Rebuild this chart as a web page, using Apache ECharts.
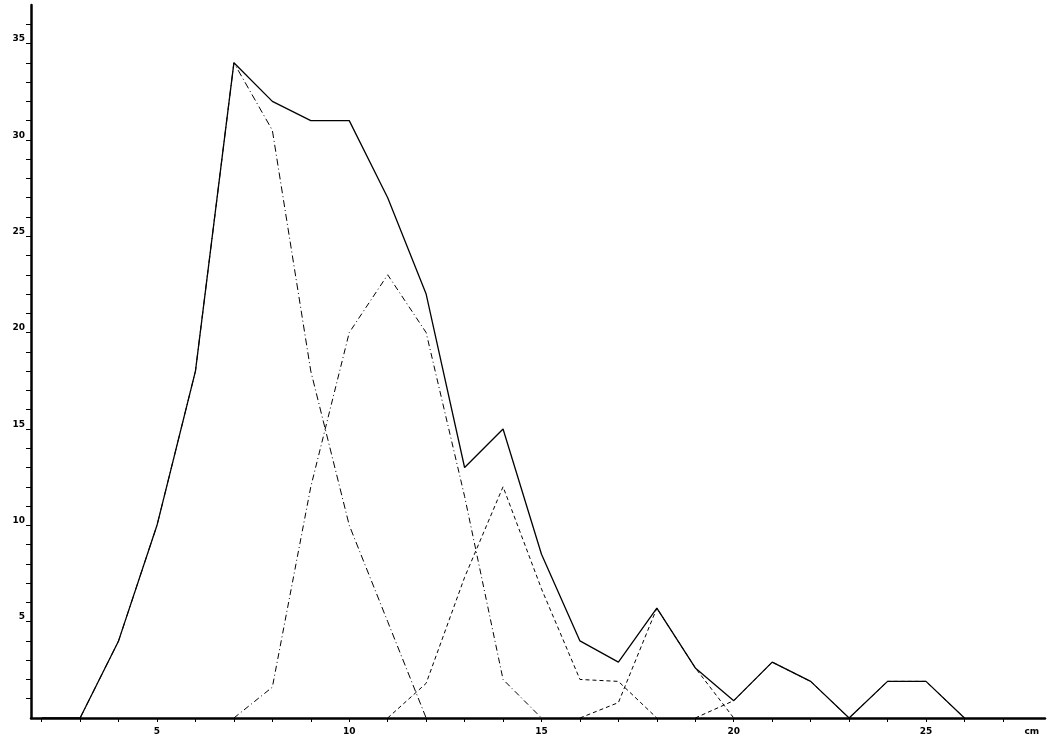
<!DOCTYPE html>
<html>
<head>
<meta charset="utf-8">
<script src="https://cdn.jsdelivr.net/npm/echarts@6/dist/echarts.min.js"></script>
<style>
html,body{margin:0;padding:0;background:#fff;}
#chart{width:1050px;height:742px;}
</style>
</head>
<body>
<div id="chart"></div>
<script>
// Length classes (cm)
const lengths = [2,3,4,5,6,7,8,9,10,11,12,13,14,15,16,17,18,19,20,21,22,23,24,25,26];
// Total (solid line)
const total  = [0,0,4,10,18,34,32,31,31,27,22,13,15,8.5,4,2.9,5.7,2.6,0.9,2.9,1.9,0,1.9,1.9,0];
// Component groups (null = not drawn)
const groupA = [null,0,4,10,18,34,30.5,18,10,5,0,null,null,null,null,null,null,null,null,null,null,null,null,null,null];
const groupB = [null,null,null,null,null,0,1.6,12,20,23,20,11.5,2,0,null,null,null,null,null,null,null,null,null,null,null];
const groupC = [null,null,null,null,null,null,null,null,null,0,1.8,7.3,12,6.7,2,1.9,0,null,null,null,null,null,null,null,null];
const groupD = [null,null,null,null,null,null,null,null,null,null,null,null,null,null,0,0.8,5.7,2.6,0,null,null,null,null,null,null];
const groupE = [null,null,null,null,null,null,null,null,null,null,null,null,null,null,null,null,null,0,0.9,2.9,1.9,0,1.9,1.9,0];
// Axis ticks and labels
const yTicks = [1,2,3,4,5,6,7,8,9,10,11,12,13,14,15,16,17,18,19,20,21,22,23,24,25,26,27,28,29,30,31,32,33,34,35,36];
const yLabels = [5,10,15,20,25,30,35];
const xTicks = [2,3,4,5,6,7,8,9,10,11,12,13,14,15,16,17,18,19,20,21,22,23,24,25,26,27];
const xLabels = [5,10,15,20,25];
const unitPos = 27.75;
const unitText = 'cm';

function pairs(vals){
  const out = [];
  vals.forEach((v,i)=>{ if(v!==null) out.push([lengths[i], v]); });
  return out;
}

const chart = echarts.init(document.getElementById('chart'), null, {renderer:'canvas'});
const lbl = {color:'#000', fontFamily:'DejaVu Sans', fontWeight:'bold', fontSize:9};
function mk(name, vals, type, width, z){
  return {
    name, type:'line', data:pairs(vals), symbol:'none', z,
    lineStyle:{color:'#000', width, type},
    animation:false
  };
}
chart.setOption({
  backgroundColor:'#fff',
  animation:false,
  grid:{left:31, right:5, top:5, bottom:24},
  xAxis:{
    type:'value', min:1.723, max:28.095,
    splitLine:{show:false},
    axisLine:{show:true, onZero:false, lineStyle:{color:'#000', width:2.5}},
    axisTick:{show:true, customValues:xTicks, length:4, lineStyle:{color:'#000', width:1}},
    axisLabel:Object.assign({}, lbl, {
      customValues: xLabels.concat([unitPos]),
      margin:9,
      formatter: v => (Math.abs(v-unitPos)<1e-6 ? unitText : String(v))
    })
  },
  yAxis:{
    type:'value', min:0, max:37,
    splitLine:{show:false},
    axisLine:{show:true, onZero:false, lineStyle:{color:'#000', width:2.5}},
    axisTick:{show:true, customValues:yTicks, length:5, lineStyle:{color:'#000', width:1}},
    axisLabel:Object.assign({}, lbl, {
      customValues:yLabels, margin:6, verticalAlign:'bottom',
      formatter: v => String(v)
    })
  },
  series:[
    mk('A', groupA, [7,3,1,3], 1, 2),
    mk('B', groupB, [6,3,1,3], 1, 2),
    mk('C', groupC, [4,3], 1, 2),
    mk('D', groupD, [4,3], 1, 2),
    mk('E', groupE, [4,3], 1, 2),
    mk('Total', total, 'solid', 1.3, 5)
  ]
});
</script>
</body>
</html>
